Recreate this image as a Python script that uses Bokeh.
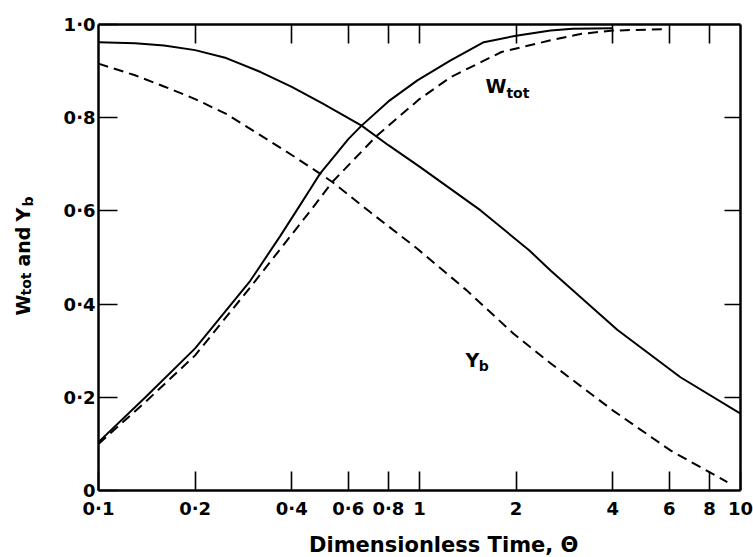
from math import pi

from bokeh.core.properties import value
from bokeh.embed import file_html
from bokeh.layouts import column, row
from bokeh.models import (CustomJSTickFormatter, FixedTicker, LinearAxis,
                          LogAxis, LogScale, Range1d)
from bokeh.plotting import figure
from bokeh.resources import INLINE

# Axis ticks and their printed labels
theta_ticks = [0.1, 0.2, 0.4, 0.6, 0.8, 1, 2, 4, 6, 8, 10]
theta_tick_labels = ["0·1", "0·2", "0·4", "0·6", "0·8", "1", "2", "4", "6", "8", "10"]
y_ticks = [0, 0.2, 0.4, 0.6, 0.8, 1.0]
y_tick_labels = ["0", "0·2", "0·4", "0·6", "0·8", "1·0"]

# W_tot, solid curve
w_solid_theta = [0.10, 0.14, 0.20, 0.297, 0.369, 0.426, 0.458, 0.49, 0.548, 0.60, 0.66, 0.80, 0.985,
                 1.25, 1.586, 2.0, 2.56, 3.0, 4.0]
w_solid_val = [0.104, 0.20, 0.305, 0.45, 0.547, 0.614, 0.648, 0.680, 0.721, 0.754, 0.783, 0.835, 0.88,
               0.923, 0.962, 0.976, 0.987, 0.991, 0.992]

# W_tot, dashed curve
w_dash_theta = [0.10, 0.14, 0.20, 0.297, 0.458, 0.535, 0.738, 1.0, 1.25, 1.8, 2.56, 3.2, 4.0, 5.9]
w_dash_val = [0.100, 0.19, 0.29, 0.436, 0.601, 0.662, 0.762, 0.84, 0.887, 0.941, 0.966, 0.980, 0.987, 0.990]

# Y_b, solid curve
y_solid_theta = [0.10, 0.13, 0.16, 0.20, 0.25, 0.32, 0.40, 0.50, 0.66, 0.80, 1.0, 1.55, 2.2, 2.56, 4.13, 6.5, 10.0]
y_solid_val = [0.962, 0.960, 0.955, 0.945, 0.928, 0.898, 0.866, 0.830, 0.783, 0.741, 0.695, 0.601, 0.515, 0.472, 0.345, 0.243, 0.165]

# Y_b, dashed curve
y_dash_theta = [0.10, 0.13, 0.16, 0.20, 0.25, 0.32, 0.40, 0.49, 0.535, 0.70, 0.98, 1.4, 1.96, 2.56, 4.0, 6.05, 9.1]
y_dash_val = [0.916, 0.891, 0.867, 0.840, 0.808, 0.762, 0.720, 0.680, 0.662, 0.598, 0.520, 0.430, 0.337, 0.273, 0.172, 0.086, 0.018]

FONT = "DejaVu Sans"
INK = "black"


def bare(fig):
    fig.xgrid.visible = False
    fig.ygrid.visible = False
    fig.outline_line_color = None
    fig.background_fill_color = "white"
    fig.border_fill_color = "white"


def words(fig, x, y, s, size, angle=0.0, align="left"):
    fig.text(x=[x], y=[y], text=[s], angle=angle,
             text_font=value(FONT), text_font_style="bold",
             text_font_size=size, text_color=INK,
             text_align=align, text_baseline="alphabetic")


# Main plot: frame spans x 98..740 and y 24..490 of the page
p = figure(
    width=708, height=527,
    x_axis_type=None, y_axis_type=None,
    x_range=Range1d(0.1, 10), y_range=Range1d(0, 1),
    output_backend="svg", toolbar_location=None,
    min_border_left=53, min_border_right=13,
    min_border_top=24, min_border_bottom=37,
)
p.x_scale = LogScale()
bare(p)

blank = CustomJSTickFormatter(code="return ''")


def style_axis(ax, labels=True):
    ax.axis_line_width = 2.5
    ax.axis_line_color = INK
    ax.major_tick_line_width = 1.6
    ax.major_tick_line_color = INK
    ax.major_tick_in = 19
    ax.major_tick_out = 0
    ax.minor_tick_line_color = None
    ax.major_label_text_font = FONT
    ax.major_label_text_font_style = "bold"
    ax.major_label_text_font_size = "18px"
    ax.major_label_text_color = INK
    if not labels:
        ax.formatter = blank
        ax.major_label_standoff = 0
        ax.major_label_text_font_size = "1px"


xb = LogAxis(ticker=FixedTicker(ticks=theta_ticks),
             major_label_overrides=dict(zip(theta_ticks, theta_tick_labels)))
style_axis(xb)
xb.major_label_standoff = 7
p.add_layout(xb, "below")

xt = LogAxis(ticker=FixedTicker(ticks=theta_ticks[1:-1]))
style_axis(xt, labels=False)
p.add_layout(xt, "above")

yl = LinearAxis(ticker=FixedTicker(ticks=y_ticks),
                major_label_overrides=dict(zip(y_ticks, y_tick_labels)))
style_axis(yl)
yl.major_label_standoff = 3
p.add_layout(yl, "left")

yr = LinearAxis(ticker=FixedTicker(ticks=y_ticks[1:-1]))
style_axis(yr, labels=False)
yr.major_tick_in = 16
p.add_layout(yr, "right")

# Curves
p.line(w_solid_theta, w_solid_val, line_color=INK, line_width=2)
p.line(w_dash_theta, w_dash_val, line_color=INK, line_width=2, line_dash="10 6")
p.line(y_solid_theta, y_solid_val, line_color=INK, line_width=2)
p.line(y_dash_theta, y_dash_val, line_color=INK, line_width=2, line_dash="10 6")

# Curve labels
words(p, 1.606, 0.869, "W", "19px")
words(p, 1.865, 0.854, "tot", "14px")
words(p, 1.39, 0.281, "Y", "19px")
words(p, 1.53, 0.268, "b", "14px")

# Vertical title strip (45 px wide), sharing the main plot's y range
yt = figure(
    width=45, height=557,
    x_axis_type=None, y_axis_type=None,
    x_range=Range1d(0, 45), y_range=p.y_range,
    output_backend="svg", toolbar_location=None,
    min_border_left=0, min_border_right=0,
    min_border_top=24, min_border_bottom=67,
)
bare(yt)
words(yt, 22, 0.3755, "W", "19px", pi / 2)
words(yt, 25, 0.4185, "tot", "14px", pi / 2)
words(yt, 22, 0.4807, "and", "19px", pi / 2)
words(yt, 22, 0.5773, "Y", "19px", pi / 2)
words(yt, 27, 0.6094, "b", "14px", pi / 2)

# Horizontal title strip, sharing the main plot's theta range
xtitle = figure(
    width=708, height=30,
    x_axis_type=None, y_axis_type=None,
    x_range=p.x_range, y_range=Range1d(0, 30),
    output_backend="svg", toolbar_location=None,
    min_border_left=53, min_border_right=13,
    min_border_top=0, min_border_bottom=0,
)
xtitle.x_scale = LogScale()
bare(xtitle)
words(xtitle, 1.19, 13, "Dimensionless Time, Θ", "21px", align="center")

layout = row(yt, column(p, xtitle, spacing=0), spacing=0)

open("out.html", "w").write(file_html(layout, INLINE))
